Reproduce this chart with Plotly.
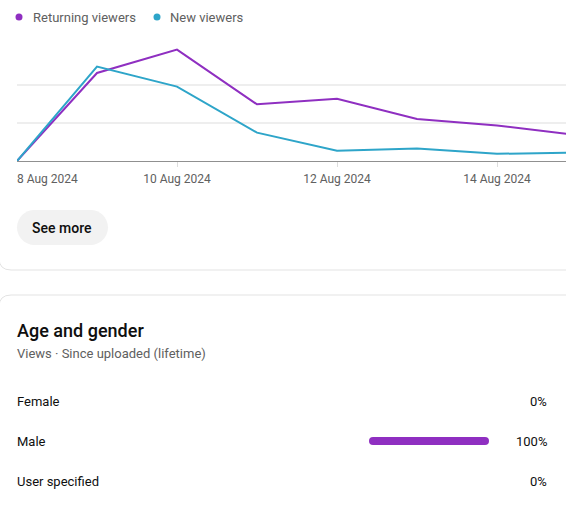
import plotly.graph_objects as go

# ---------------- data ----------------
dates = ["2024-08-08", "2024-08-09", "2024-08-10", "2024-08-11",
         "2024-08-12", "2024-08-13", "2024-08-14", "2024-08-15"]
returning_viewers = [0, 2.33, 2.95, 1.50, 1.65, 1.11, 0.94, 0.69]
new_viewers = [0, 2.50, 1.97, 0.75, 0.27, 0.33, 0.19, 0.225]
series_names = ["Returning viewers", "New viewers"]
tick_dates = ["2024-08-08", "2024-08-10", "2024-08-12", "2024-08-14"]
tick_labels = ["8 Aug 2024", "10 Aug 2024", "12 Aug 2024", "14 Aug 2024"]

genders = ["Female", "Male", "User specified"]
gender_share = [0, 100, 0]

PURPLE = "#8f2fc1"
CYAN = "#2ea5c9"
W, H = 566, 516
FONT = "Roboto"
FONT_MED = "Roboto Medium, Roboto"


def px(x):
    return x / W


def py(y):
    return 1 - y / H


fig = go.Figure()

# line chart
fig.add_trace(go.Scatter(x=dates, y=returning_viewers, mode="lines", name=series_names[0],
                         line=dict(color=PURPLE, width=2), showlegend=False,
                         xaxis="x", yaxis="y"))
fig.add_trace(go.Scatter(x=dates, y=new_viewers, mode="lines", name=series_names[1],
                         line=dict(color=CYAN, width=2), showlegend=False,
                         xaxis="x", yaxis="y"))

# gender bars (rounded ends via markers)
for g, v in zip(genders, gender_share):
    if v > 0:
        fig.add_trace(go.Scatter(x=[0, v], y=[g, g], mode="lines+markers",
                                 line=dict(color=PURPLE, width=8),
                                 marker=dict(color=PURPLE, size=8, line=dict(width=0)),
                                 cliponaxis=False,
                                 showlegend=False, xaxis="x2", yaxis="y2", hoverinfo="skip"))

annotations = []
shapes = []

# legend
legend_items = [(19, 33, series_names[0], PURPLE), (157, 170, series_names[1], CYAN)]
for dx, tx, label, col in legend_items:
    shapes.append(dict(type="circle", xref="paper", yref="paper",
                       x0=px(dx - 3.5), x1=px(dx + 3.5), y0=py(17 + 3.5), y1=py(17 - 3.5),
                       fillcolor=col, line=dict(width=0)))
    annotations.append(dict(x=px(tx), y=py(17), xref="paper", yref="paper", text=label,
                            showarrow=False, xanchor="left", yanchor="middle", xshift=-2,
                            font=dict(family=FONT, size=13, color="#606060")))

# first tick label, left aligned
annotations.append(dict(x=tick_dates[0], y=py(179), xref="x", yref="paper", text=tick_labels[0],
                        showarrow=False, xanchor="left", yanchor="middle", xshift=-2,
                        font=dict(family=FONT, size=12, color="#606060")))


def pill(x0, y0, x1, y1):
    r = (y1 - y0) / 2
    k = 0.5523 * r
    pts = [
        f"M{px(x0 + r)},{py(y0)}",
        f"L{px(x1 - r)},{py(y0)}",
        f"C{px(x1 - r + k)},{py(y0)} {px(x1)},{py(y0 + r - k)} {px(x1)},{py(y0 + r)}",
        f"C{px(x1)},{py(y0 + r + k)} {px(x1 - r + k)},{py(y1)} {px(x1 - r)},{py(y1)}",
        f"L{px(x0 + r)},{py(y1)}",
        f"C{px(x0 + r - k)},{py(y1)} {px(x0)},{py(y0 + r + k)} {px(x0)},{py(y0 + r)}",
        f"C{px(x0)},{py(y0 + r - k)} {px(x0 + r - k)},{py(y0)} {px(x0 + r)},{py(y0)} Z",
    ]
    return " ".join(pts)


shapes.append(dict(type="path", xref="paper", yref="paper", path=pill(17, 210, 108, 245),
                   fillcolor="#f2f2f2", line=dict(width=0), layer="below"))
annotations.append(dict(x=px(62.5), y=py(227.5), xref="paper", yref="paper", text="See more",
                        showarrow=False, xanchor="center", yanchor="middle",
                        font=dict(family=FONT_MED, size=14, color="#0f0f0f")))

# card borders
shapes.append(dict(type="path", xref="paper", yref="paper",
                   path=f"M{px(-1)},{py(258)} Q{px(-1)},{py(270)} {px(11)},{py(270)} L{px(567)},{py(270)}",
                   line=dict(color="#e3e3e3", width=1)))
shapes.append(dict(type="path", xref="paper", yref="paper",
                   path=f"M{px(567)},{py(295)} L{px(11)},{py(295)} Q{px(-1)},{py(295)} {px(-1)},{py(307)}",
                   line=dict(color="#e3e3e3", width=1)))

# section texts
annotations.append(dict(x=px(17), y=py(330), xref="paper", yref="paper", text="Age and gender",
                        showarrow=False, xanchor="left", yanchor="middle", xshift=-2,
                        font=dict(family=FONT_MED, size=18, color="#0f0f0f")))
annotations.append(dict(x=px(17), y=py(353), xref="paper", yref="paper",
                        text="Views · Since uploaded (lifetime)",
                        showarrow=False, xanchor="left", yanchor="middle", xshift=-2,
                        font=dict(family=FONT, size=13, color="#606060")))
for g, v in zip(genders, gender_share):
    annotations.append(dict(x=px(17), y=g, xref="paper", yref="y2", text=g,
                            showarrow=False, xanchor="left", yanchor="middle", xshift=-2,
                            font=dict(family=FONT, size=13, color="#0f0f0f")))
    annotations.append(dict(x=px(547), y=g, xref="paper", yref="y2", text=f"{v}%",
                            showarrow=False, xanchor="right", yanchor="middle", xshift=2,
                            font=dict(family=FONT, size=13, color="#0f0f0f")))

fig.update_layout(
    width=W, height=H,
    margin=dict(l=0, r=0, t=0, b=0),
    paper_bgcolor="white", plot_bgcolor="white",
    font=dict(family=FONT),
    showlegend=False,
    xaxis=dict(domain=[px(17), 1], type="date",
               range=["2024-08-08", "2024-08-14 20:42"],
               tickvals=tick_dates[1:], ticktext=tick_labels[1:],
               ticks="outside", ticklen=5, tickcolor="#dddddd",
               ticklabelstandoff=2,
               tickfont=dict(family=FONT, size=12, color="#606060"),
               showline=True, linecolor="#909090", linewidth=1,
               showgrid=False, zeroline=False, fixedrange=True),
    yaxis=dict(domain=[py(161), py(47.7)], range=[0, 3], tickvals=[1, 2, 3],
               showticklabels=False, showgrid=True, gridcolor="#eeeeee", gridwidth=2,
               zeroline=False, showline=False, fixedrange=True),
    xaxis2=dict(domain=[px(373), px(485)], range=[0, 100], visible=False,
                anchor="y2", fixedrange=True),
    yaxis2=dict(domain=[py(501), py(381)], type="category", categoryarray=genders,
                range=[2.5, -0.5], visible=False, anchor="x2", fixedrange=True),
    annotations=annotations,
    shapes=shapes,
)

fig.write_html("out.html", config={"displayModeBar": False},
               post_script="document.body.style.margin='0';document.body.style.overflow='hidden';")
